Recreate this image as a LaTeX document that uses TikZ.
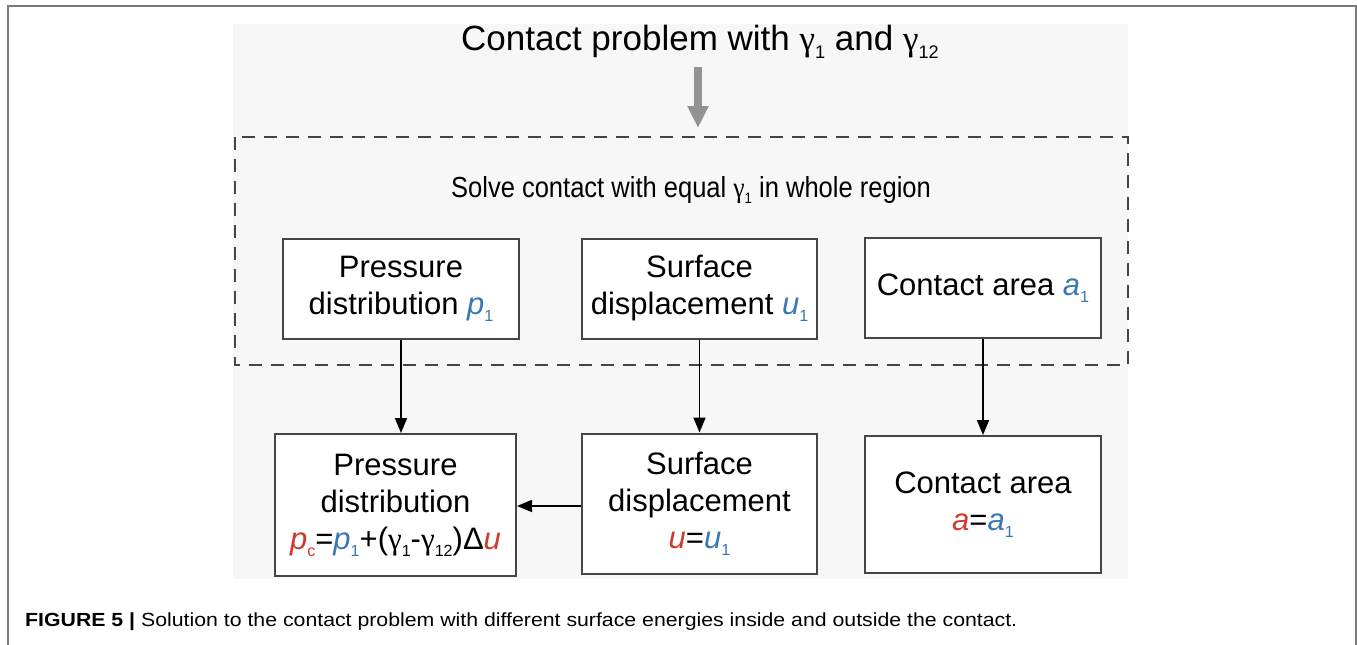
\documentclass[tikz,border=0pt]{standalone}
\usepackage{fontspec}
\setmainfont{Liberation Sans}
\newfontfamily\gk{Liberation Serif}
\usetikzlibrary{arrows.meta}
\definecolor{myred}{HTML}{CC3B2C}
\definecolor{myblue}{HTML}{3A78B5}
\definecolor{panel}{HTML}{F7F7F7}
\definecolor{framegray}{HTML}{7A7A7A}
\definecolor{boxline}{HTML}{454545}
\newcommand{\lowsub}[1]{\raisebox{-0.22em}{\scalebox{0.52}{#1}}}
\newcommand{\gam}{{\gk γ}}
\tikzset{
  stepbox/.style={draw=boxline, line width=2pt, fill=white, align=center,
    font=\fontsize{31}{37}\selectfont, inner sep=0pt},
  arr/.style={line width=1.6pt, -{Triangle[length=15pt,width=12pt]}},
}
\begin{document}
\begin{tikzpicture}[x=1pt,y=-1pt]
\useasboundingbox (0,0) rectangle (1357,645);
\fill[white] (0,0) rectangle (1357,645);
% outer frame
\draw[framegray, line width=2pt] (8,650) -- (8,6) -- (1356,6) -- (1356,650);
% panel
\fill[panel] (233,24) rectangle (1128,579);
% dashed region
\draw[boxline, line width=1.6pt, dash pattern=on 13pt off 9pt] (235,137) rectangle (1128,365);
% title
\node[font=\fontsize{35}{40}\selectfont] (title) at (700,42) {Contact problem with \gam\lowsub{1} and \gam\lowsub{12}};
\coordinate (gs) at (698,67);
\coordinate (ge) at (698,128);
\draw[line width=8pt, color=gray!85, -{Triangle[length=22pt,width=20pt]}] (gs) -- (ge);
% solve text
\node[font=\fontsize{29}{34}\selectfont] (solve) at (691,190) {\scalebox{0.88}[1]{Solve contact with equal \gam\lowsub{1} in whole region}};
% top boxes
\node[stepbox, minimum width=236pt, minimum height=100pt] (b1) at (401,288.5)
  {Pressure\\distribution \textcolor{myblue}{\textit{p}\lowsub{1}}};
\node[stepbox, minimum width=235pt, minimum height=100pt] (b2) at (699.5,288.5)
  {Surface\\displacement \textcolor{myblue}{\textit{u}\lowsub{1}}};
\node[stepbox, minimum width=236pt, minimum height=100pt] (b3) at (983,288)
  {Contact area \textcolor{myblue}{\textit{a}\lowsub{1}}};
% bottom boxes
\node[stepbox, minimum width=241pt, minimum height=142pt] (b4) at (395.5,505)
  {Pressure\\distribution\\\textcolor{myred}{\textit{p}\lowsub{c}}=\textcolor{myblue}{\textit{p}\lowsub{1}}+(\gam\lowsub{1}-\gam\lowsub{12})Δ\textcolor{myred}{\textit{u}}};
\node[stepbox, minimum width=235pt, minimum height=140pt] (b5) at (699.5,503.5)
  {Surface\\displacement\\\textcolor{myred}{\textit{u}}=\textcolor{myblue}{\textit{u}\lowsub{1}}};
\node[stepbox, minimum width=236pt, minimum height=137pt] (b6) at (983,504.5)
  {Contact area\\\textcolor{myred}{\textit{a}}=\textcolor{myblue}{\textit{a}\lowsub{1}}};
% connectors
\draw[arr] (b1.south) -- (b1.south |- b4.north);
\draw[arr] (b2.south) -- (b5.north);
\draw[arr] (b3.south) -- (b6.north);
\draw[arr] (b5.west |- 0,506) -- (b4.east |- 0,506);
% caption
\node[anchor=base west, font=\fontsize{19}{22}\selectfont, inner sep=0pt] (cap) at (25,626)
  {\scalebox{1.12}[1]{\textbf{FIGURE 5 |} Solution to the contact problem with different surface energies inside and outside the contact.}};
\end{tikzpicture}
\end{document}
